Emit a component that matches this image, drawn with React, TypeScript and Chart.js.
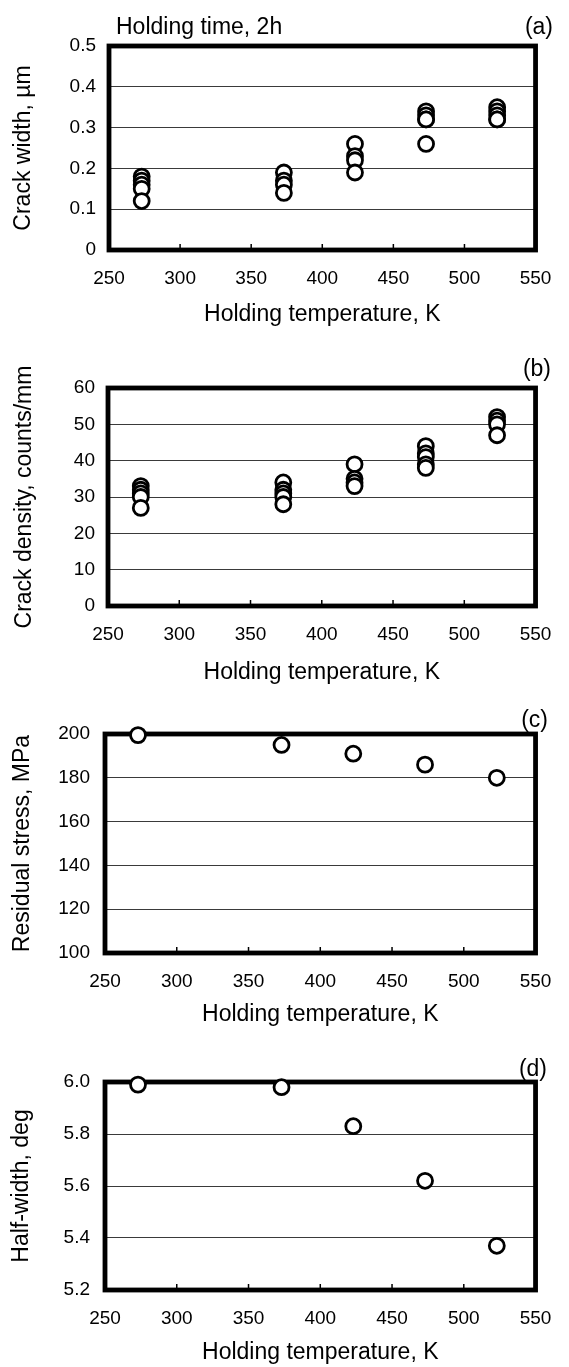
import React, { useEffect, useRef } from 'react';
import { Chart, registerables } from 'chart.js';
Chart.register(...registerables);

const FONT = '"Liberation Sans", Arial, Helvetica, sans-serif';
const TICK_SIZE = 19;
const TITLE_SIZE = 23;

// ---- data ----
const temperatures = [273, 373, 423, 473, 523];
const xTickValues = [250, 300, 350, 400, 450, 500, 550];
const xTickLabels = ['250', '300', '350', '400', '450', '500', '550'];

const crackWidthSamples = [
  [0.18, 0.17, 0.16, 0.15, 0.12],
  [0.19, 0.17, 0.16, 0.14],
  [0.26, 0.23, 0.22, 0.19],
  [0.34, 0.33, 0.32, 0.32, 0.26],
  [0.35, 0.34, 0.33, 0.32, 0.32],
];
const crackDensitySamples = [
  [33, 32, 31, 30, 27],
  [34, 32, 31, 30, 28],
  [39, 35, 34, 33],
  [44, 42, 41, 39, 38],
  [52, 51, 50, 47],
];
const residualStress = [199.5, 195, 191, 186, 180];
const halfWidth = [5.99, 5.98, 5.83, 5.62, 5.37];

const widthTicks = [0, 0.1, 0.2, 0.3, 0.4, 0.5];
const widthTickLabels = ['0', '0.1', '0.2', '0.3', '0.4', '0.5'];
const densityTicks = [0, 10, 20, 30, 40, 50, 60];
const densityTickLabels = ['0', '10', '20', '30', '40', '50', '60'];
const stressTicks = [100, 120, 140, 160, 180, 200];
const stressTickLabels = ['100', '120', '140', '160', '180', '200'];
const halfWidthTicks = [5.2, 5.4, 5.6, 5.8, 6.0];
const halfWidthTickLabels = ['5.2', '5.4', '5.6', '5.8', '6.0'];

const xTitle = 'Holding temperature, K';

const groupedPoints = (groups: number[][]) =>
  temperatures.flatMap((t, i) => groups[i].map((v) => ({ x: t, y: v })));
const singlePoints = (vals: number[]) => temperatures.map((t, i) => ({ x: t, y: vals[i] }));

const panels = [
  {
    canvasTop: 0, canvasH: 330, plotLeft: 109, plotRight: 552, plotTop: 46, plotBottom: 250, titleY: 315,
    letter: '(a)', letterX: 553, letterY: 28, note: 'Holding time, 2h', noteX: 116,
    yTitle: 'Crack width, µm', yMin: 0, yMax: 0.5, yTicks: widthTicks, yLabels: widthTickLabels,
    points: groupedPoints(crackWidthSamples), tickPad: 13, yTitleX: 24,
  },
  {
    canvasTop: 330, canvasH: 360, plotLeft: 108, plotRight: 553, plotTop: 388, plotBottom: 606, titleY: 673,
    letter: '(b)', letterX: 551, letterY: 370, note: '', noteX: 0,
    yTitle: 'Crack density, counts/mm', yMin: 0, yMax: 60, yTicks: densityTicks, yLabels: densityTickLabels,
    points: groupedPoints(crackDensitySamples), tickPad: 13, yTitleX: 25,
  },
  {
    canvasTop: 690, canvasH: 340, plotLeft: 105, plotRight: 553, plotTop: 734, plotBottom: 953, titleY: 1015,
    letter: '(c)', letterX: 548, letterY: 721, note: '', noteX: 0,
    yTitle: 'Residual stress, MPa', yMin: 100, yMax: 200, yTicks: stressTicks, yLabels: stressTickLabels,
    points: singlePoints(residualStress), tickPad: 15, yTitleX: 23,
  },
  {
    canvasTop: 1030, canvasH: 337, plotLeft: 105, plotRight: 551, plotTop: 1082, plotBottom: 1290, titleY: 1353,
    letter: '(d)', letterX: 547, letterY: 1070, note: '', noteX: 0,
    yTitle: 'Half-width, deg', yMin: 5.2, yMax: 6.0, yTicks: halfWidthTicks, yLabels: halfWidthTickLabels,
    points: singlePoints(halfWidth), tickPad: 15, yTitleX: 22,
  },
];

type PanelCfg = (typeof panels)[number];

function makeFramePlugin(p: PanelCfg) {
  return {
    id: 'frame',
    beforeDatasetsDraw(chart: any) {
      const { ctx, chartArea, scales } = chart;
      const { left, right, top, bottom } = chartArea;
      ctx.save();
      ctx.strokeStyle = '#000';
      ctx.lineWidth = 1.5;
      ctx.beginPath();
      xTickValues.slice(1, -1).forEach((v) => {
        const px = scales.x.getPixelForValue(v);
        ctx.moveTo(px, bottom);
        ctx.lineTo(px, bottom - 6);
      });
      ctx.stroke();
      ctx.lineWidth = 4.8;
      ctx.strokeRect(left, top, right - left, bottom - top);
      ctx.restore();
    },
    afterDraw(chart: any) {
      const { ctx } = chart;
      ctx.save();
      ctx.fillStyle = '#000';
      ctx.font = `${TITLE_SIZE}px ${FONT}`;
      ctx.textBaseline = 'middle';
      ctx.textAlign = 'right';
      ctx.fillText(p.letter, p.letterX, p.letterY - p.canvasTop);
      if (p.note) {
        ctx.textAlign = 'left';
        ctx.fillText(p.note, p.noteX, p.letterY - p.canvasTop);
      }
      ctx.restore();
    },
  };
}

function Panel({ p }: { p: PanelCfg }) {
  const ref = useRef<HTMLCanvasElement>(null);
  useEffect(() => {
    const canvas = ref.current!;
    const titleLH = TITLE_SIZE * 1.2;
    const chart = new Chart(canvas, {
      type: 'scatter',
      data: {
        datasets: [
          {
            data: p.points,
            pointRadius: 7.5,
            pointHoverRadius: 7.5,
            pointBorderWidth: 2.8,
            pointBackgroundColor: '#fff',
            pointBorderColor: '#000',
            showLine: false,
            clip: false,
          } as any,
        ],
      },
      options: {
        responsive: false,
        animation: false,
        devicePixelRatio: 1,
        events: [],
        layout: {
          padding: { top: p.plotTop - p.canvasTop, right: 569 - p.plotRight, left: 0, bottom: 0 },
        },
        plugins: { legend: { display: false }, tooltip: { enabled: false } },
        scales: {
          x: {
            type: 'linear',
            min: 250,
            max: 550,
            afterBuildTicks: (s: any) => {
              s.ticks = xTickValues.map((v) => ({ value: v }));
            },
            ticks: {
              callback: (_v: any, i: number) => xTickLabels[i],
              padding: 29 - (TICK_SIZE * 1.2) / 2,
              color: '#000',
              font: { size: TICK_SIZE, family: FONT },
              maxRotation: 0,
              autoSkip: false,
            },
            grid: { display: false, drawTicks: false },
            border: { display: false },
            title: {
              display: true,
              text: xTitle,
              color: '#000',
              font: { size: TITLE_SIZE, family: FONT },
              padding: { top: 0, bottom: p.canvasTop + p.canvasH - p.titleY - titleLH / 2 },
            },
            afterFit: (s: any) => {
              s.height = p.canvasTop + p.canvasH - p.plotBottom;
            },
          },
          y: {
            type: 'linear',
            min: p.yMin,
            max: p.yMax,
            afterBuildTicks: (s: any) => {
              s.ticks = p.yTicks.map((v) => ({ value: v }));
            },
            ticks: {
              callback: (_v: any, i: number) => p.yLabels[i],
              padding: p.tickPad,
              color: '#000',
              font: { size: TICK_SIZE, family: FONT },
              autoSkip: false,
            },
            grid: { color: '#3a3a3a', lineWidth: 1, drawTicks: false },
            border: { display: false },
            title: {
              display: true,
              text: p.yTitle,
              color: '#000',
              font: { size: TITLE_SIZE, family: FONT },
              padding: { top: p.yTitleX - titleLH / 2, bottom: 0 },
            },
            afterFit: (s: any) => {
              s.width = p.plotLeft;
            },
          },
        },
      } as any,
      plugins: [makeFramePlugin(p)],
    });
    return () => chart.destroy();
  }, []);
  return (
    <canvas
      ref={ref}
      width={569}
      height={p.canvasH}
      style={{ position: 'absolute', left: 0, top: p.canvasTop, width: 569, height: p.canvasH }}
    />
  );
}

export default function App() {
  return (
    <div style={{ position: 'absolute', left: 0, top: 0, width: 569, height: 1367, background: '#fff' }}>
      {panels.map((p, i) => (
        <Panel key={i} p={p} />
      ))}
    </div>
  );
}
